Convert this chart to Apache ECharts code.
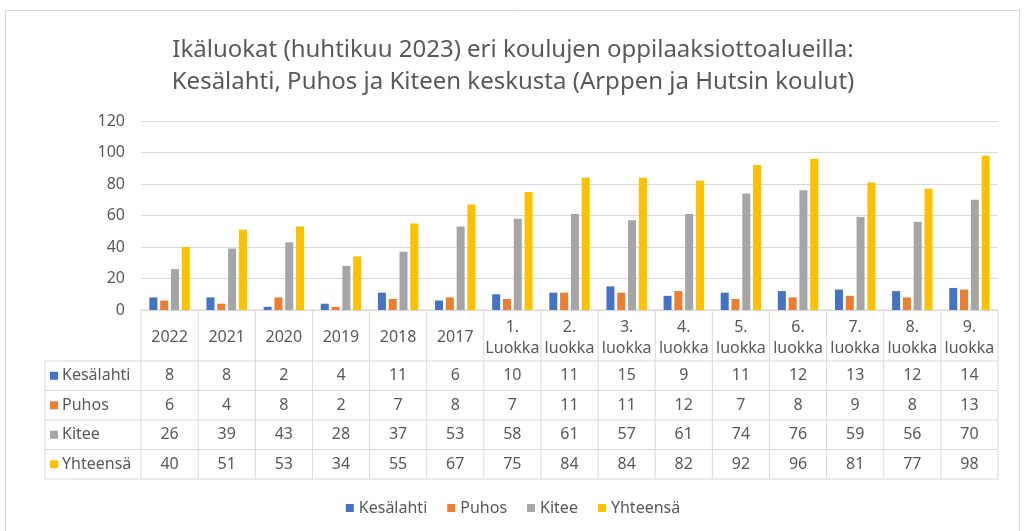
<!DOCTYPE html>
<html>
<head>
<meta charset="utf-8">
<script src="https://cdn.jsdelivr.net/npm/echarts@6/dist/echarts.min.js"></script>
<style>
  html, body { margin: 0; padding: 0; background: #fff; }
  #chart { width: 1026px; height: 531px; }
</style>
</head>
<body>
<div id="chart"></div>
<script>
const FONT = '"Noto Sans", "Open Sans", sans-serif'
const TEXT_COLOR = '#595959'
const LINE_COLOR = '#d9d9d9'

const categories = ['2022', '2021', '2020', '2019', '2018', '2017',
  '1.\nLuokka', '2.\nluokka', '3.\nluokka', '4.\nluokka', '5.\nluokka',
  '6.\nluokka', '7.\nluokka', '8.\nluokka', '9.\nluokka']
const seriesNames = ['Kesälahti', 'Puhos', 'Kitee', 'Yhteensä']
const seriesColors = ['#4472C4', '#ED7D31', '#A5A5A5', '#FFC000']
const kesalahti = [8, 8, 2, 4, 11, 6, 10, 11, 15, 9, 11, 12, 13, 12, 14]
const puhos = [6, 4, 8, 2, 7, 8, 7, 11, 11, 12, 7, 8, 9, 8, 13]
const kitee = [26, 39, 43, 28, 37, 53, 58, 61, 57, 61, 74, 76, 59, 56, 70]
const yhteensa = [40, 51, 53, 34, 55, 67, 75, 84, 84, 82, 92, 96, 81, 77, 98]
const seriesData = [kesalahti, puhos, kitee, yhteensa]

// table layout (px)
const TABLE_LEFT = 45
const HEADER_TOP = 310
const HEADER_BOTTOM = 361
const ROW_H = 29.5

const chart = echarts.init(document.getElementById('chart'), null, { renderer: 'canvas' })

chart.setOption({
  backgroundColor: '#fff',
  animation: false,
  textStyle: { fontFamily: FONT },
  title: {
    text: 'Ikäluokat (huhtikuu 2023) eri koulujen oppilaaksiottoalueilla:\nKesälahti, Puhos ja Kiteen keskusta (Arppen ja Hutsin koulut)',
    left: 'center',
    top: 29,
    textStyle: { fontFamily: FONT, fontSize: 24, fontWeight: 'normal', color: TEXT_COLOR, lineHeight: 32 }
  },
  legend: {
    data: seriesNames,
    left: 'center',
    top: 495,
    icon: 'rect',
    itemWidth: 8,
    itemHeight: 8,
    itemGap: 20,
    textStyle: { fontFamily: FONT, fontSize: 16, color: TEXT_COLOR }
  },
  grid: { left: 141, right: 28, top: 121, bottom: 221 },
  xAxis: {
    type: 'category',
    data: categories,
    axisLine: { lineStyle: { color: LINE_COLOR } },
    axisTick: { show: false },
    axisLabel: { show: false }
  },
  yAxis: {
    type: 'value',
    min: 0,
    max: 120,
    interval: 20,
    axisLine: { show: false },
    axisTick: { show: false },
    axisLabel: { color: TEXT_COLOR, fontSize: 16, margin: 16, fontFamily: FONT },
    splitLine: { lineStyle: { color: LINE_COLOR } }
  },
  series: seriesNames.map((name, i) => ({
    name,
    type: 'bar',
    data: seriesData[i],
    barWidth: 8,
    barGap: '35%',
    itemStyle: { color: seriesColors[i] }
  }))
})

function buildTable() {
  const c0 = chart.convertToPixel({ xAxisIndex: 0 }, 0)
  const c1 = chart.convertToPixel({ xAxisIndex: 0 }, 1)
  const step = c1 - c0
  const plotLeft = c0 - step / 2
  const plotRight = plotLeft + step * categories.length
  const tableBottom = HEADER_BOTTOM + ROW_H * seriesNames.length
  const els = []
  const line = (x1, y1, x2, y2) => els.push({
    type: 'line', silent: true,
    shape: { x1, y1, x2, y2 },
    style: { stroke: LINE_COLOR, lineWidth: 1 }
  })
  const text = (x, y, t, align) => els.push({
    type: 'text', silent: true, x, y,
    style: { text: t, fill: TEXT_COLOR, font: '16px ' + FONT, align: align || 'center', verticalAlign: 'middle', lineHeight: 21 }
  })

  // horizontal lines
  line(plotLeft, HEADER_TOP, plotRight, HEADER_TOP)
  for (let r = 0; r <= seriesNames.length; r++) {
    const y = HEADER_BOTTOM + ROW_H * r
    line(TABLE_LEFT, y, plotRight, y)
  }
  // vertical lines
  line(TABLE_LEFT, HEADER_BOTTOM, TABLE_LEFT, tableBottom)
  for (let i = 0; i <= categories.length; i++) {
    const x = plotLeft + step * i
    line(x, HEADER_TOP, x, tableBottom)
  }
  // header labels
  categories.forEach((cat, i) => {
    text(chart.convertToPixel({ xAxisIndex: 0 }, i), (HEADER_TOP + HEADER_BOTTOM) / 2 + 2, cat)
  })
  // rows
  seriesNames.forEach((name, r) => {
    const y = HEADER_BOTTOM + ROW_H * r + ROW_H / 2
    els.push({
      type: 'rect', silent: true,
      shape: { x: 50, y: y - 4, width: 8, height: 8 },
      style: { fill: seriesColors[r] }
    })
    text(62, y, name, 'left')
    seriesData[r].forEach((v, i) => {
      text(chart.convertToPixel({ xAxisIndex: 0 }, i), y, String(v))
    })
  })
  // outer border
  els.push({
    type: 'rect', silent: true,
    shape: { x: 5.5, y: 10.5, width: 1014, height: 530 },
    style: { fill: 'none', stroke: LINE_COLOR, lineWidth: 1 }
  })
  chart.setOption({ graphic: els })
}

buildTable()
</script>
</body>
</html>
